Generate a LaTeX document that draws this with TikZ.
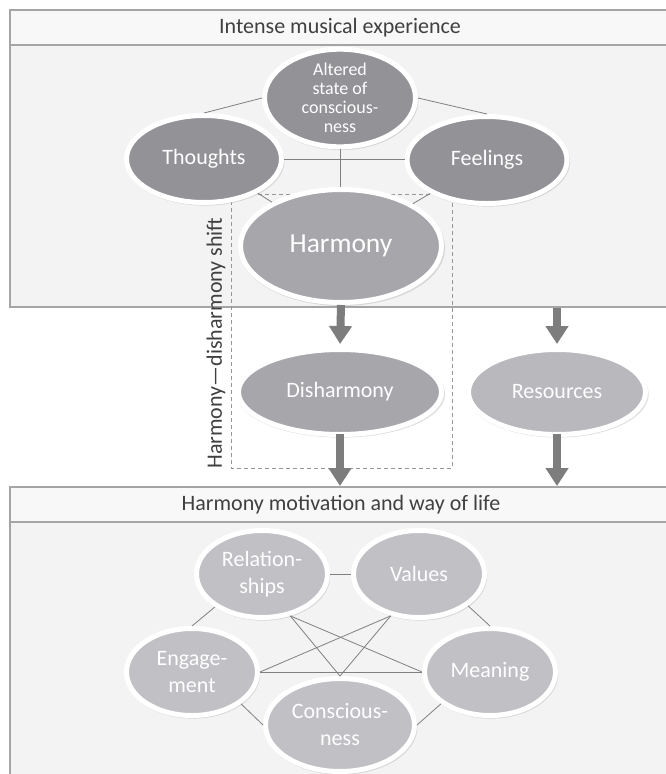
\documentclass[tikz,border=0pt]{standalone}
\usepackage{fontspec}
\setmainfont{Carlito}
\usetikzlibrary{shapes.geometric,arrows.meta,shadows}
\definecolor{boxfill}{RGB}{243,243,243}
\definecolor{headfill}{RGB}{248,248,248}
\definecolor{boxline}{RGB}{165,165,165}
\definecolor{titletext}{RGB}{64,64,64}
\definecolor{darkoval}{RGB}{146,146,151}
\definecolor{midoval}{RGB}{166,166,171}
\definecolor{resoval}{RGB}{184,184,189}
\definecolor{lightoval}{RGB}{192,192,197}
\definecolor{linkgray}{RGB}{128,128,128}
\definecolor{arrgray}{RGB}{125,125,125}
\definecolor{dashgray}{RGB}{150,150,150}
\begin{document}
\begin{tikzpicture}[x=1pt,y=-1pt,
  oval/.style={ellipse, draw=white, line width=5pt, text=white, inner sep=0pt, align=center,
    font=\fontsize{22}{27}\selectfont,
    drop shadow={shadow xshift=1pt, shadow yshift=-2pt, opacity=0.28, fill=black!45, shadow scale=1.025}},
  link/.style={draw=linkgray, line width=0.8pt},
  bigarrow/.style={draw=arrgray, line width=8pt, -{Triangle[width=22pt,length=18pt]}},
  panel/.style={draw=boxline, line width=1.3pt, fill=boxfill},
  header/.style={draw=boxline, line width=1.3pt, fill=headfill},
  title/.style={text=titletext, font=\fontsize{22}{26}\selectfont},
  frame/.style={draw=dashgray, line width=1pt, dash pattern=on 4pt off 3pt}
]
\useasboundingbox (0,0) rectangle (665,774);

% panels
\draw[panel] (10,10) rectangle (690,307);
\draw[header] (10,10) rectangle (690,45);
\node[title] (t1) at (340,28) {Intense musical experience};

\draw[panel] (10,487) rectangle (690,800);
\draw[header] (10,487) rectangle (690,522);
\node[title] (t2) at (341,505) {Harmony motivation and way of life};

% dashed frame
\draw[frame] (231,194) rectangle (452,468);
\node[title, rotate=90] (shift) at (216,343) {Harmony—disharmony shift};

% top ellipses
\node[oval, fill=darkoval, minimum width=151pt, minimum height=91pt, font=\fontsize{18}{18.8}\selectfont] (alt) at (340,98) {Altered\\state of\\conscious-\\ness};
\node[oval, fill=darkoval, minimum width=155pt, minimum height=87pt] (tho) at (204,159) {Thoughts};
\node[oval, fill=darkoval, minimum width=160pt, minimum height=87pt] (fee) at (487,160) {Feelings};
\node[oval, fill=midoval, minimum width=201pt, minimum height=113pt, font=\fontsize{27.5}{30}\selectfont] (har) at (341,246) {Harmony};

\draw[link] (alt.west) -- (tho.north);
\draw[link] (alt.east) -- (fee.north);
\draw[link] (alt.south) -- (alt.south |- har.north);
\draw[link] (tho.east) -- (tho.east -| fee.west);
\draw[link] (tho) -- (har);
\draw[link] (fee) -- (har);

% middle
\node[oval, fill=midoval, minimum width=203pt, minimum height=85pt] (dis) at (340,392) {Disharmony};
\node[oval, fill=resoval, minimum width=177pt, minimum height=85pt] (res) at (557,392) {Resources};

\coordinate (rtop) at (557,308);
\coordinate (dbot) at (340,486);
\coordinate (rbot) at (557,486);
\draw[bigarrow, shorten >=3pt] (har.south) -- (dis.north);
\draw[bigarrow, shorten >=3pt] (rtop) -- (res.north);
\draw[bigarrow, shorten <=-3pt] (dis.south) -- (dbot);
\draw[bigarrow, shorten <=-3pt] (res.south) -- (rbot);

% bottom ellipses
\node[oval, fill=lightoval, minimum width=131pt, minimum height=87pt] (rel) at (262,574) {Relation-\\ships};
\node[oval, fill=lightoval, minimum width=131pt, minimum height=87pt] (val) at (419,574) {Values};
\node[oval, fill=lightoval, minimum width=131pt, minimum height=87pt] (eng) at (192,672) {Engage-\\ment};
\node[oval, fill=lightoval, minimum width=131pt, minimum height=87pt] (mea) at (490,672) {Meaning};
\node[oval, fill=lightoval, minimum width=149pt, minimum height=93pt] (con) at (340,725) {Conscious-\\ness};

\draw[link] (rel.east) -- (rel.east -| val.west);
\draw[link] (rel.215) -- (eng.north);
\draw[link] (val.-33) -- (mea.north);
\draw[link] (eng.east) -- (eng.east -| mea.west);
\draw[link] (eng.-33) -- (con.west);
\draw[link] (mea.-147) -- (con.east);
\draw[link] (rel.-56) -- (mea.west);
\draw[link] (rel.-56) -- (con.north);
\draw[link] (val.-124) -- (eng.east);
\draw[link] (val.-124) -- (con.north);
\end{tikzpicture}
\end{document}
